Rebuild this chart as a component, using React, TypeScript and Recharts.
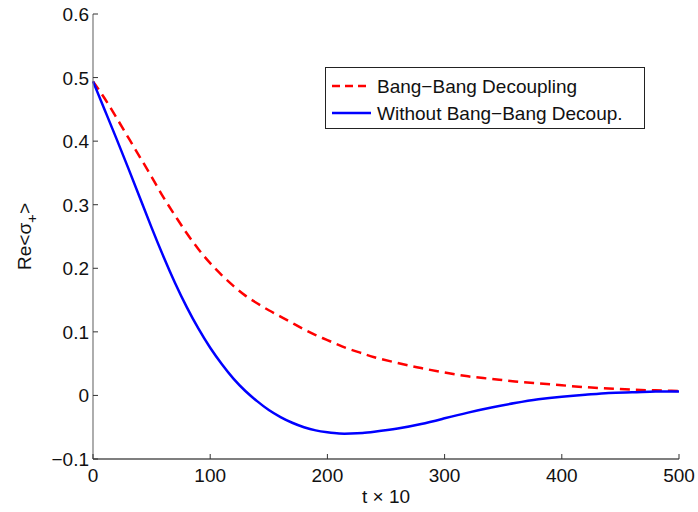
import React from "react";
import { LineChart, Line, XAxis, YAxis } from "recharts";

const tValues = [0, 10, 20, 30, 40, 50, 60, 70, 80, 90, 100, 110, 120, 130, 140, 150, 160, 170, 180, 190, 200, 210, 220, 230, 240, 260, 280, 300, 320, 340, 360, 380, 400, 420, 440, 460, 480, 500];
const withBangBang = [0.494, 0.467, 0.437, 0.406, 0.375, 0.344, 0.312, 0.283, 0.255, 0.23, 0.208, 0.189, 0.172, 0.157, 0.145, 0.134, 0.124, 0.114, 0.104, 0.095, 0.087, 0.079, 0.072, 0.066, 0.06, 0.051, 0.043, 0.036, 0.03, 0.026, 0.022, 0.019, 0.016, 0.013, 0.011, 0.009, 0.008, 0.007];
const withoutBangBang = [0.494, 0.449, 0.404, 0.358, 0.311, 0.264, 0.219, 0.177, 0.139, 0.105, 0.075, 0.049, 0.026, 0.007, -0.009, -0.023, -0.034, -0.043, -0.05, -0.055, -0.058, -0.06, -0.06, -0.059, -0.057, -0.052, -0.045, -0.036, -0.027, -0.019, -0.012, -0.006, -0.002, 0.001, 0.004, 0.005, 0.006, 0.006];
const xTicks = [0, 100, 200, 300, 400, 500];
const yTicks = [-0.1, 0, 0.1, 0.2, 0.3, 0.4, 0.5, 0.6];
const seriesNames = ["Bang\u2212Bang Decoupling", "Without Bang\u2212Bang Decoup."];

const data = tValues.map((t, i) => ({ t, bb: withBangBang[i], nobb: withoutBangBang[i] }));

const FONT = "'Liberation Sans', Arial, Helvetica, sans-serif";
const FS = 19;

const fmtY = (v: number) => {
  if (Math.abs(v) < 1e-9) return "0";
  const s = v.toFixed(1);
  return v < 0 ? "\u2212" + s.slice(1) : s;
};

const YTick = (props: any) => {
  const { x, y, payload } = props;
  return (
    <g>
      <line x1={x} x2={x + 5} y1={y} y2={y} stroke="#333" strokeWidth={1} />
      <text x={x - 4} y={y + 7} textAnchor="end" fontFamily={FONT} fontSize={FS} fill="#111">
        {fmtY(payload.value)}
      </text>
    </g>
  );
};

const XTick = (props: any) => {
  const { x, y, payload } = props;
  return (
    <g>
      <line x1={x} x2={x} y1={y} y2={y - 5} stroke="#333" strokeWidth={1} />
      <text x={x} y={y + 23} textAnchor="middle" fontFamily={FONT} fontSize={FS} fill="#111">
        {payload.value}
      </text>
    </g>
  );
};

const YLabel = (props: any) => {
  const { viewBox } = props;
  const cy = viewBox.y + viewBox.height / 2;
  const bx = 31;
  return (
    <text
      x={bx}
      y={cy}
      transform={`rotate(-90, ${bx}, ${cy})`}
      textAnchor="middle"
      fontFamily={FONT}
      fontSize={FS}
      fill="#111"
    >
      Re&lt;σ<tspan dy={6} fontSize={15}>+</tspan><tspan dy={-6}>&gt;</tspan>
    </text>
  );
};

const XLabel = (props: any) => {
  const { viewBox } = props;
  const cx = viewBox.x + viewBox.width / 2;
  return (
    <text x={cx} y={503} textAnchor="middle" fontFamily={FONT} fontSize={FS} fill="#111">
      t × 10
    </text>
  );
};

const LegendBox = () => (
  <div
    style={{
      position: "absolute",
      left: 325,
      top: 67,
      width: 320,
      height: 62,
      border: "1px solid #222",
      background: "#fff",
      boxSizing: "border-box",
    }}
  >
    <svg width={318} height={60} style={{ position: "absolute", left: 0, top: 0 }}>
      <line x1={6} x2={45} y1={18} y2={18} stroke="#ff0000" strokeWidth={2.5} strokeDasharray="8 5" />
      <line x1={6} x2={45} y1={45} y2={45} stroke="#0000ff" strokeWidth={2.5} />
      <text x={51} y={25} fontFamily={FONT} fontSize={FS} fill="#111">{seriesNames[0]}</text>
      <text x={51} y={52} fontFamily={FONT} fontSize={FS} fill="#111">{seriesNames[1]}</text>
    </svg>
  </div>
);

export default function App() {
  return (
    <div style={{ position: "absolute", left: 0, top: 0, width: 698, height: 512, background: "#fff" }}>
      <LineChart width={698} height={512} data={data} margin={{ top: 14, right: 19, bottom: 0, left: 0 }}>
        <XAxis
          dataKey="t"
          type="number"
          domain={[0, 500]}
          ticks={xTicks}
          height={53}
          tickLine={false}
          tickSize={0}
          tickMargin={0}
          tick={<XTick />}
          axisLine={{ stroke: "#000", strokeWidth: 1.2 }}
          label={<XLabel />}
          interval={0}
        />
        <YAxis
          type="number"
          domain={[-0.1, 0.6]}
          ticks={yTicks}
          width={93}
          tickLine={false}
          tickSize={0}
          tickMargin={0}
          tick={<YTick />}
          axisLine={{ stroke: "#777", strokeWidth: 1.2 }}
          label={<YLabel />}
          interval={0}
          allowDataOverflow
        />
        <Line
          type="natural"
          dataKey="bb"
          stroke="#ff0000"
          strokeWidth={2.5}
          strokeDasharray="10 6"
          dot={false}
          isAnimationActive={false}
        />
        <Line
          type="natural"
          dataKey="nobb"
          stroke="#0000ff"
          strokeWidth={2.5}
          dot={false}
          isAnimationActive={false}
        />
      </LineChart>
      <LegendBox />
    </div>
  );
}
